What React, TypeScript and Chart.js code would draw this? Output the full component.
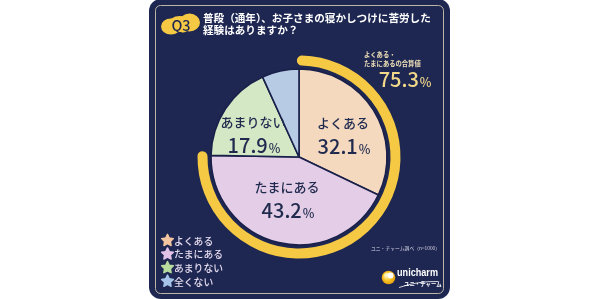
import { useEffect, useRef } from "react";
import { Chart, registerables } from "chart.js";

Chart.register(...registerables);

// Survey answers and their shares (%)
const categories = ["よくある", "たまにある", "あまりない", "全くない"];
const shares = [32.1, 43.2, 17.9, 6.8];
const sliceColors = ["#f4d9bf", "#e4cde6", "#d4e8c5", "#b7cbe5"];
const starColors = ["#f3c5a0", "#e2c2e6", "#b7dc9e", "#a6c4e9"];

const titleLines = ["普段（通年）、お子さまの寝かしつけに苦労した", "経験はありますか？"];
const badgeText = "Q3";
const combinedNote = ["よくある・", "たまにあるの合算値"];
const sourceNote = "ユニ・チャーム調べ（n=1000）";
const brandName = "unicharm";
const brandKana = "ユニ・チャーム";

const NAVY = "#1e2752";
const INK = "#1f2a4e";
const GOLD = "#f6c944";
const JP = '"Noto Sans CJK JP", "Noto Sans", sans-serif';

function roundRect(ctx: CanvasRenderingContext2D, x: number, y: number, w: number, h: number, r: number) {
  ctx.beginPath();
  ctx.moveTo(x + r, y);
  ctx.lineTo(x + w - r, y);
  ctx.arcTo(x + w, y, x + w, y + r, r);
  ctx.lineTo(x + w, y + h - r);
  ctx.arcTo(x + w, y + h, x + w - r, y + h, r);
  ctx.lineTo(x + r, y + h);
  ctx.arcTo(x, y + h, x, y + h - r, r);
  ctx.lineTo(x, y + r);
  ctx.arcTo(x, y, x + r, y, r);
  ctx.closePath();
}

function star(ctx: CanvasRenderingContext2D, cx: number, cy: number, r: number, color: string) {
  ctx.beginPath();
  for (let i = 0; i < 10; i++) {
    const rad = i % 2 === 0 ? r : r * 0.5;
    const a = -Math.PI / 2 + (i * Math.PI) / 5;
    const px = cx + rad * Math.cos(a);
    const py = cy + rad * Math.sin(a);
    if (i === 0) ctx.moveTo(px, py);
    else ctx.lineTo(px, py);
  }
  ctx.closePath();
  ctx.fillStyle = color;
  ctx.lineJoin = "round";
  ctx.strokeStyle = color;
  ctx.lineWidth = 1.4;
  ctx.fill();
  ctx.stroke();
}

// Value with a smaller "%" sign, centred on x
function valueText(ctx: CanvasRenderingContext2D, value: string, x: number, y: number, big: number, color: string) {
  ctx.fillStyle = color;
  ctx.textBaseline = "alphabetic";
  ctx.textAlign = "left";
  ctx.font = `500 ${big}px ${JP}`;
  const w1 = ctx.measureText(value).width;
  ctx.font = `500 ${big * 0.62}px ${JP}`;
  const w2 = ctx.measureText("%").width;
  const x0 = x - (w1 + w2 + 1) / 2;
  ctx.font = `500 ${big}px ${JP}`;
  ctx.fillText(value, x0, y);
  ctx.font = `500 ${big * 0.62}px ${JP}`;
  ctx.fillText("%", x0 + w1 + 1, y);
}

const panelPlugin = {
  id: "panel",
  beforeDraw(chart: any) {
    const ctx: CanvasRenderingContext2D = chart.ctx;
    ctx.save();
    ctx.fillStyle = "#ffffff";
    ctx.fillRect(0, 0, chart.width, chart.height);
    roundRect(ctx, 149, -1, 301, 300, 12);
    ctx.fillStyle = NAVY;
    ctx.fill();
    roundRect(ctx, 155.5, 5.5, 288, 288, 5);
    ctx.strokeStyle = "#bcb5a2";
    ctx.lineWidth = 1;
    ctx.stroke();

    // Q3 badge
    ctx.fillStyle = GOLD;
    ctx.beginPath();
    ctx.ellipse(171, 26.5, 10, 8, 0, 0, Math.PI * 2);
    ctx.ellipse(189.5, 22.5, 10.5, 9, 0, 0, Math.PI * 2);
    ctx.fill();
    ctx.beginPath();
    ctx.ellipse(180, 24.5, 12, 8.5, 0, 0, Math.PI * 2);
    ctx.fill();
    ctx.fillStyle = NAVY;
    ctx.font = `500 14.5px ${JP}`;
    ctx.textAlign = "center";
    ctx.textBaseline = "middle";
    ctx.fillText(badgeText, 181, 25.5);

    // Title
    ctx.fillStyle = "#ffffff";
    ctx.font = `bold 10.6px ${JP}`;
    ctx.textAlign = "left";
    ctx.fillText(titleLines[0], 203, 17.5);
    ctx.fillText(titleLines[1], 203, 29.5);

    // Combined share note
    ctx.fillStyle = "#f1e2b8";
    ctx.font = `bold 6.3px ${JP}`;
    ctx.fillText(combinedNote[0], 364, 54.5);
    ctx.fillText(combinedNote[1], 364, 63.5);
    const combined = (shares[0] + shares[1]).toFixed(1);
    ctx.font = `500 20px ${JP}`;
    const cw = ctx.measureText(combined).width;
    valueText(ctx, combined, 381 + (cw + 8) / 2, 87, 20, "#f3d98a");

    // Legend
    categories.forEach((c, i) => {
      const y = 240.5 + i * 13.6;
      star(ctx, 167.5, y, 6.2, starColors[i]);
      ctx.fillStyle = "#e6dcef";
      ctx.font = `500 9.8px ${JP}`;
      ctx.textAlign = "left";
      ctx.textBaseline = "middle";
      ctx.fillText(c, 174, y + 0.5);
    });

    // Source
    ctx.fillStyle = "#d9d6e6";
    ctx.font = `4.8px ${JP}`;
    ctx.textAlign = "left";
    ctx.fillText(sourceNote, 371, 248.5);

    // Brand mark
    const g = ctx.createRadialGradient(386, 275, 1, 388.5, 277.5, 7);
    g.addColorStop(0, "#fff6c8");
    g.addColorStop(0.55, "#f7c623");
    g.addColorStop(1, "#e59a12");
    ctx.fillStyle = g;
    ctx.beginPath();
    ctx.arc(388.5, 277.5, 6.8, 0, Math.PI * 2);
    ctx.fill();
    ctx.fillStyle = "#ffffff";
    ctx.beginPath();
    ctx.arc(390.5, 275.5, 3, 0, Math.PI * 2);
    ctx.fill();

    ctx.fillStyle = "#ffffff";
    ctx.font = `bold 11px "Liberation Sans Narrow", "Liberation Sans", sans-serif`;
    ctx.textBaseline = "middle";
    const bw = ctx.measureText(brandName).width;
    ctx.save();
    ctx.translate(397, 273);
    ctx.scale(41 / bw, 1);
    ctx.fillText(brandName, 0, 0);
    ctx.restore();

    ctx.strokeStyle = "#ffffff";
    ctx.lineWidth = 0.8;
    ctx.beginPath();
    ctx.moveTo(399, 287.5);
    ctx.quadraticCurveTo(418, 281, 438, 281.5);
    ctx.stroke();
    ctx.font = `bold 5.4px ${JP}`;
    ctx.fillText(brandKana, 404, 284);
    ctx.restore();
  },
  afterDatasetsDraw(chart: any) {
    const ctx: CanvasRenderingContext2D = chart.ctx;
    const arc = chart.getDatasetMeta(0).data[0];
    const { x: cx, y: cy, outerRadius } = arc.getProps(["x", "y", "outerRadius"], true);
    const total = shares.reduce((a, b) => a + b, 0);
    ctx.save();
    // Gold arc spanning よくある + たまにある
    const end = -Math.PI / 2 + (2 * Math.PI * (shares[0] + shares[1])) / total;
    ctx.strokeStyle = GOLD;
    ctx.lineWidth = 10;
    ctx.lineCap = "round";
    ctx.beginPath();
    ctx.arc(cx, cy, outerRadius + 8.5, -Math.PI / 2 + 0.03, end - 0.01);
    ctx.stroke();

    // Slice labels
    const offsets = [
      [44, -23],
      [-12, 41],
      [-46, -24],
    ];
    offsets.forEach(([dx, dy], i) => {
      ctx.fillStyle = INK;
      ctx.font = `500 13px ${JP}`;
      ctx.textAlign = "center";
      ctx.textBaseline = "middle";
      ctx.fillText(categories[i], cx + dx, cy + dy - 11);
      valueText(ctx, shares[i].toFixed(1), cx + dx + 1, cy + dy + 20, 20, INK);
    });
    ctx.restore();
  },
};

export default function App() {
  const ref = useRef<HTMLCanvasElement>(null);
  useEffect(() => {
    if (!ref.current) return;
    const chart = new Chart(ref.current, {
      type: "pie",
      data: {
        labels: categories,
        datasets: [
          {
            data: shares,
            backgroundColor: sliceColors,
            borderColor: "#19204a",
            borderWidth: 1.6,
            hoverOffset: 0,
          },
        ],
      },
      options: {
        animation: false,
        responsive: false,
        devicePixelRatio: 1,
        radius: 88,
        layout: { padding: { left: 100, right: 101, top: 60, bottom: 45 } },
        plugins: {
          legend: { display: false },
          tooltip: { enabled: false },
        },
        events: [],
      } as any,
      plugins: [panelPlugin],
    });
    return () => chart.destroy();
  }, []);
  return (
    <div style={{ position: "fixed", left: 0, top: 0, width: 599, height: 299, background: "#fff" }}>
      <canvas ref={ref} width={599} height={299} style={{ width: 599, height: 299, display: "block" }} />
    </div>
  );
}
